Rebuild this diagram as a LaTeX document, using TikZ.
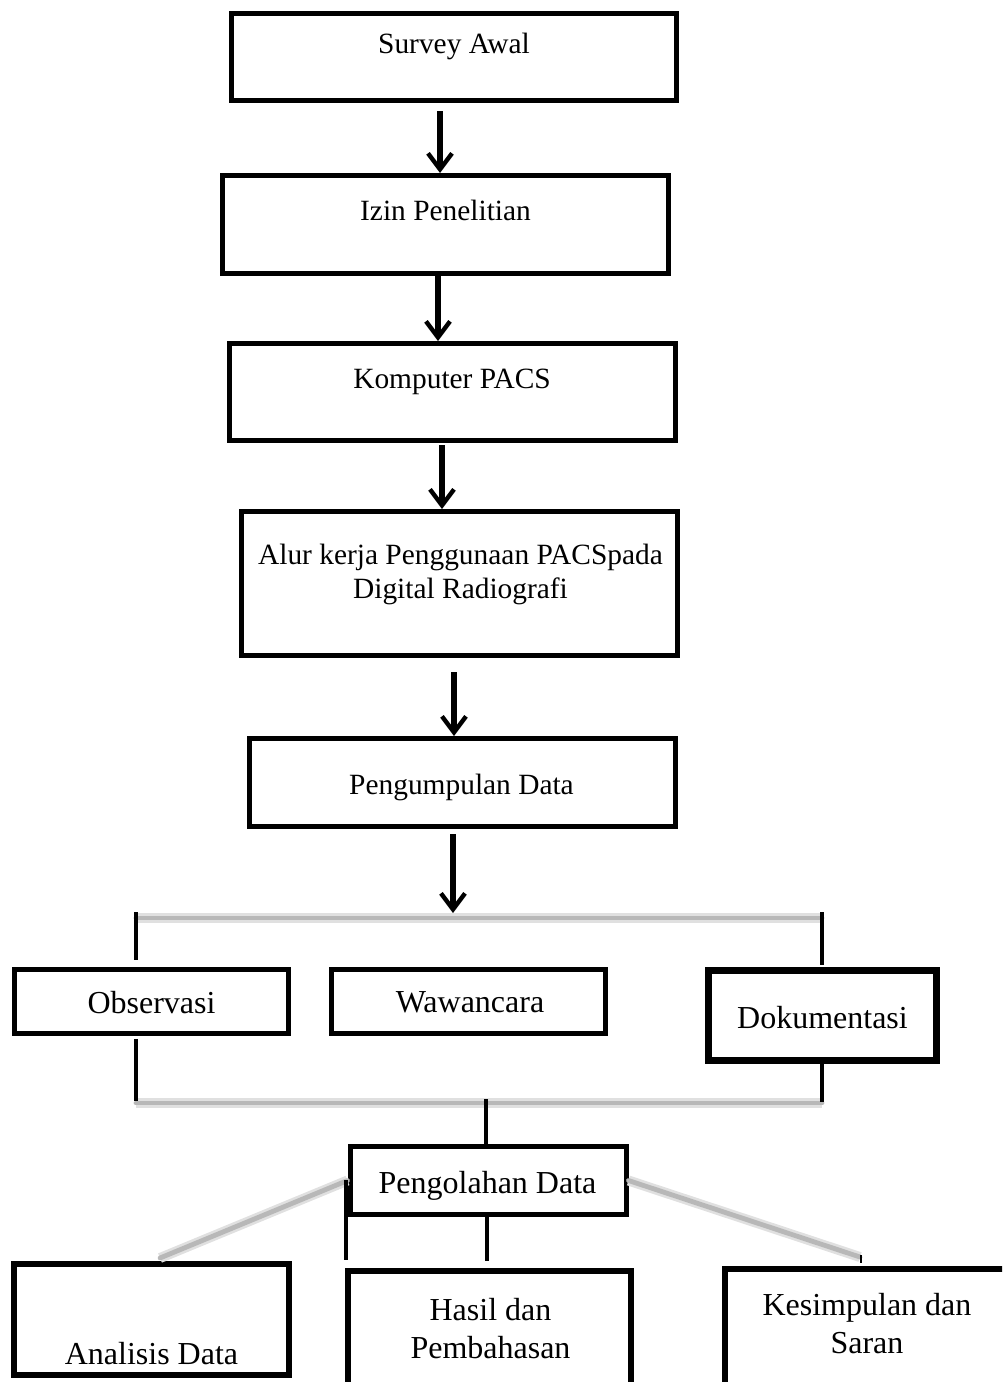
\documentclass[tikz,border=0pt]{standalone}
\usepackage{fontspec}
\setmainfont{Liberation Serif}
\usetikzlibrary{arrows.meta}
\begin{document}
\begin{tikzpicture}[x=0.5pt,y=-0.5pt,
  box/.style={draw=black, line width=2.5pt, fill=white, inner sep=0pt, rectangle},
  upt/.style={font=\fontsize{14.7}{17}\selectfont, anchor=base, inner sep=0pt},
  lot/.style={font=\fontsize{16}{19}\selectfont, anchor=base, inner sep=0pt},
  arr/.style={line width=2.9pt, -{Straight Barb[length=8pt,width=12pt,line width=2.2pt]}},
  blk/.style={line width=2.2pt},
  gline/.style={line width=2.4pt, draw=black!28, line cap=round,
                preaction={draw=black!12, line width=5pt}}]
\useasboundingbox (0,0) rectangle (1002,1382);
\clip (0,0) rectangle (1002,1382);

% ---------- boxes ----------
\node[box, minimum width=222.5pt, minimum height=43.5pt] (survey) at (454,57) {};
\node[box, minimum width=223pt, minimum height=49pt] (izin) at (445.5,224.5) {};
\node[box, minimum width=223pt, minimum height=48.5pt] (komp) at (452.5,392) {};
\node[box, minimum width=218pt, minimum height=72pt] (alur) at (459.5,583.5) {};
\node[box, minimum width=213pt, minimum height=44pt] (pengum) at (462.5,782.5) {};
\node[box, line width=2.3pt, minimum width=137pt, minimum height=32pt] (obs) at (151.5,1001.5) {};
\node[box, line width=2.3pt, minimum width=137pt, minimum height=32pt] (waw) at (468.5,1001.5) {};
\node[box, line width=3.5pt, minimum width=114pt, minimum height=45pt] (dok) at (822.5,1015.5) {};
\node[box, minimum width=138pt, minimum height=34pt] (peng) at (488,1180.5) {};
\node[box, line width=3pt, minimum width=137.5pt, minimum height=55.5pt] (ana) at (151.5,1319.5) {};
\node[box, line width=3pt, minimum width=141.5pt, minimum height=84.5pt] (hasil) at (489.5,1355.5) {};
\node[box, line width=3pt, minimum width=157.5pt, minimum height=85.5pt] (kes) at (882.5,1354.5) {};

% ---------- texts ----------
\node[upt] (tsurvey) at (454,53) {Survey Awal};
\node[upt] (tizin) at (445.5,220) {Izin Penelitian};
\node[upt] (tkomp) at (452,388) {Komputer PACS};
\node[upt] (talur1) at (460.5,564) {Alur kerja Penggunaan PACSpada};
\node[upt] (talur2) at (460.5,598) {Digital Radiografi};
\node[upt] (tpengum) at (461.5,794) {Pengumpulan Data};
\node[lot] (tobs) at (151.5,1013) {Observasi};
\node[lot] (twaw) at (470,1012) {Wawancara};
\node[lot] (tdok) at (822.5,1028) {Dokumentasi};
\node[lot] (tpeng) at (487.5,1193) {Pengolahan Data};
\node[lot] (tana) at (151.5,1364) {Analisis Data};
\node[lot] (thasil1) at (490.5,1320) {Hasil dan};
\node[lot] (thasil2) at (490.5,1358) {Pembahasan};
\node[lot] (tkes1) at (867,1315) {Kesimpulan dan};
\node[lot] (tkes2) at (867,1353) {Saran};

% ---------- arrows ----------
\coordinate (c1) at (440,0);
\coordinate (c2) at (438,0);
\coordinate (c3) at (442,0);
\coordinate (c4) at (454,0);
\coordinate (c5) at (453,0);
\draw[arr, shorten <=4pt] (survey.south -| c1) -- (izin.north -| c1);
\draw[arr] (izin.south -| c2) -- (komp.north -| c2);
\draw[arr, shorten <=1pt] (komp.south -| c3) -- (alur.north -| c3);
\draw[arr, shorten <=7pt] (alur.south -| c4) -- (pengum.north -| c4);
\coordinate (btop) at (453,918);
\draw[arr, shorten <=2.5pt, shorten >=2.5pt] (pengum.south -| c5) -- (btop);

% ---------- bracket around Observasi / Wawancara / Dokumentasi ----------
\coordinate (gtl) at (136,918);
\coordinate (gtr) at (822,918);
\coordinate (gbl) at (136,1103);
\coordinate (gbr) at (822,1103);
\draw[gline] (gtl) -- (gtr);
\draw[gline] (gbl) -- (gbr);
\coordinate (tl) at (136,912);
\coordinate (tr) at (822,912);
\coordinate (bl) at (136,1101);
\coordinate (br) at (822,1102);
\draw[blk, shorten >=3.5pt] (tl) -- (tl |- obs.north);
\draw[blk, shorten >=1pt] (tr) -- (tr |- dok.north);
\draw[blk, shorten <=1.5pt] (bl |- obs.south) -- (bl);
\draw[blk] (br |- dok.south) -- (br);
\coordinate (bm) at (486,1099);
\draw[blk] (bm) -- (bm |- peng.north);

% ---------- below Pengolahan Data ----------
\coordinate (dl) at (160,1258);
\coordinate (dr) at (860,1257);
\draw[gline] (peng.west) -- (dl);
\draw[gline] (peng.east) -- (dr);
\draw[line width=0.8pt] (861,1255) -- (861,1263);
\coordinate (stub) at (346,1180);
\draw[blk, shorten >=4pt] (stub) -- (stub |- hasil.north);
\coordinate (pm) at (487,0);
\draw[blk, shorten >=3.5pt] (peng.south -| pm) -- (hasil.north -| pm);
\end{tikzpicture}
\end{document}
